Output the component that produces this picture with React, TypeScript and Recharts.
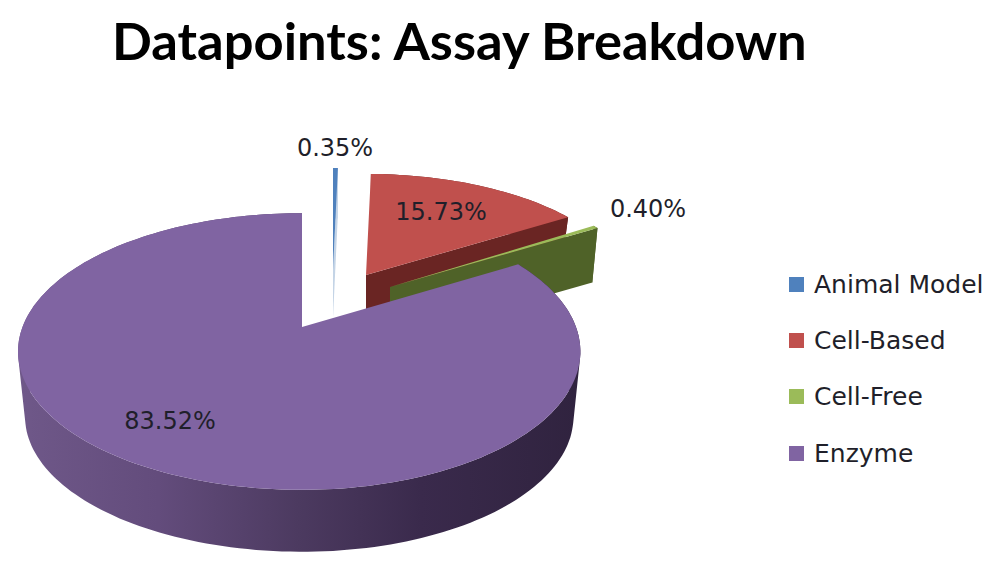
import { PieChart, Pie, Cell, Legend } from "recharts";

// Datapoints by assay type, in percent
const ASSAYS = ["Animal Model", "Cell-Based", "Cell-Free", "Enzyme"];
const SHARES = [0.35, 15.73, 0.4, 83.52];
const COLORS = ["#4f81bd", "#c0504d", "#9bbb59", "#8064a2"];

const chartData = ASSAYS.map((name, i) => ({ name, value: SHARES[i] }));

const LABEL_FONT = "'DejaVu Sans', sans-serif";

// how each slice is pulled out of the 3D pie
const SLICE_LOOK: Record<string, any> = {
  "Animal Model": { ax: 333, ay: 270, rl: 260, rr: 260, ry: 120, depth: 48, wall: "#c4d4e6" },
  "Cell-Based": { ax: 366, ay: 275, rl: 261, rr: 261, ry: 119, depth: 37, wall: "#6a2523" },
  "Cell-Free": { ax: 390, ay: 287, rl: 263, rr: 263, ry: 126, depth: 53, wall: "#4f6228" },
  Enzyme: { ax: 302, ay: 327, rl: 279.5, rr: 274, ry: 134, depth: 66, wall: "url(#enzymeWall)" },
};

const LABEL_SPOT: Record<string, [number, number]> = {
  "Animal Model": [335, 148],
  "Cell-Based": [441, 212],
  "Cell-Free": [648, 209],
  Enzyme: [170, 421],
};

const PERSPECTIVE = 0.177;
const BOTTOM_SCALE = 0.975;

function project(deg: number, look: any, bottom: boolean) {
  const t = (deg * Math.PI) / 180;
  const u = Math.sin(t);
  const v = Math.cos(t);
  const d = 1 + PERSPECTIVE * v;
  const x = ((u < 0 ? look.rl : look.rr) * u) / d;
  const y = (-look.ry * v) / d;
  if (!bottom) return [look.ax + x, look.ay + y];
  return [look.ax + x * BOTTOM_SCALE, look.ay + look.depth + y * BOTTOM_SCALE];
}

function arc(from: number, to: number, look: any, bottom: boolean) {
  const pts: number[][] = [];
  const steps = Math.max(2, Math.ceil(Math.abs(to - from) / 1.5));
  for (let i = 0; i <= steps; i++) {
    pts.push(project(from + ((to - from) * i) / steps, look, bottom));
  }
  return pts;
}

const toPath = (pts: number[][]) =>
  "M" + pts.map((p) => `${p[0].toFixed(1)},${p[1].toFixed(1)}`).join("L") + "Z";

// same winding for every quad so one path fills them without seams
function wound(pts: number[][]) {
  let area = 0;
  pts.forEach((p, i) => {
    const q = pts[(i + 1) % pts.length];
    area += p[0] * q[1] - q[0] * p[1];
  });
  return area < 0 ? [...pts].reverse() : pts;
}

// elliptical slice with its side walls, angles come from the Pie layout
function Slice3D(props: any) {
  const look = SLICE_LOOK[props.name];
  const from = 90 - props.startAngle;
  const to = 90 - props.endAngle;
  const apex = [look.ax, look.ay];
  const apexLow = [look.ax, look.ay + look.depth];
  const topArc = arc(from, to, look, false);
  const lowArc = arc(from, to, look, true);
  const outerWall = topArc
    .slice(1)
    .map((p, i) => toPath(wound([topArc[i], p, lowArc[i + 1], lowArc[i]])))
    .join("");
  return (
    <g>
      {props.name === "Enzyme" && (
        <defs>
          <linearGradient id="enzymeWall" gradientUnits="userSpaceOnUse" x1="18" y1="0" x2="578" y2="0">
            <stop offset="0%" stopColor="#6f5889" />
            <stop offset="25%" stopColor="#634c7c" />
            <stop offset="50%" stopColor="#4c3a60" />
            <stop offset="72%" stopColor="#3a2a4c" />
            <stop offset="100%" stopColor="#30233f" />
          </linearGradient>
        </defs>
      )}
      <path d={outerWall} fill={look.wall} />
      <path d={toPath([apex, topArc[topArc.length - 1], lowArc[lowArc.length - 1], apexLow])} fill={look.wall} />
      <path d={toPath([apex, ...topArc])} fill={props.fill} />
    </g>
  );
}

function sliceLabel(props: any) {
  const spot = LABEL_SPOT[props.name];
  return (
    <text
      x={spot[0]}
      y={spot[1]}
      textAnchor="middle"
      dominantBaseline="central"
      fontFamily={LABEL_FONT}
      fontSize={24}
      fill="#1f1f2a"
    >
      {SHARES[ASSAYS.indexOf(props.name)].toFixed(2)}%
    </text>
  );
}

function LegendList() {
  return (
    <div>
      {ASSAYS.map((name, i) => (
        <div key={name} style={{ height: 56.4, display: "flex", alignItems: "center" }}>
          <span style={{ width: 15, height: 15, background: COLORS[i], marginRight: 10 }} />
          <span style={{ fontFamily: LABEL_FONT, fontSize: 25, color: "#1f1f2a", whiteSpace: "nowrap" }}>{name}</span>
        </div>
      ))}
    </div>
  );
}

export default function App() {
  return (
    <div style={{ position: "absolute", left: 0, top: 0, width: 1000, height: 574, background: "#fff" }}>
      <div
        style={{
          position: "absolute",
          left: 112,
          top: 8,
          fontFamily: "Lato, sans-serif",
          fontWeight: 700,
          fontSize: 52.5,
          color: "#000",
          whiteSpace: "nowrap",
        }}
      >
        Datapoints: Assay Breakdown
      </div>
      <PieChart width={1000} height={574} margin={{ top: 0, right: 0, bottom: 0, left: 0 }}>
        <Pie
          data={chartData}
          dataKey="value"
          nameKey="name"
          cx={302}
          cy={327}
          outerRadius={270}
          startAngle={90}
          endAngle={-270}
          stroke="none"
          shape={Slice3D}
          label={sliceLabel}
          labelLine={false}
          isAnimationActive={false}
        >
          {ASSAYS.map((name, i) => (
            <Cell key={name} fill={COLORS[i]} />
          ))}
        </Pie>
        <Legend
          content={<LegendList />}
          wrapperStyle={{ position: "absolute", left: 789, top: 256, width: 211, bottom: "auto" }}
        />
      </PieChart>
    </div>
  );
}
